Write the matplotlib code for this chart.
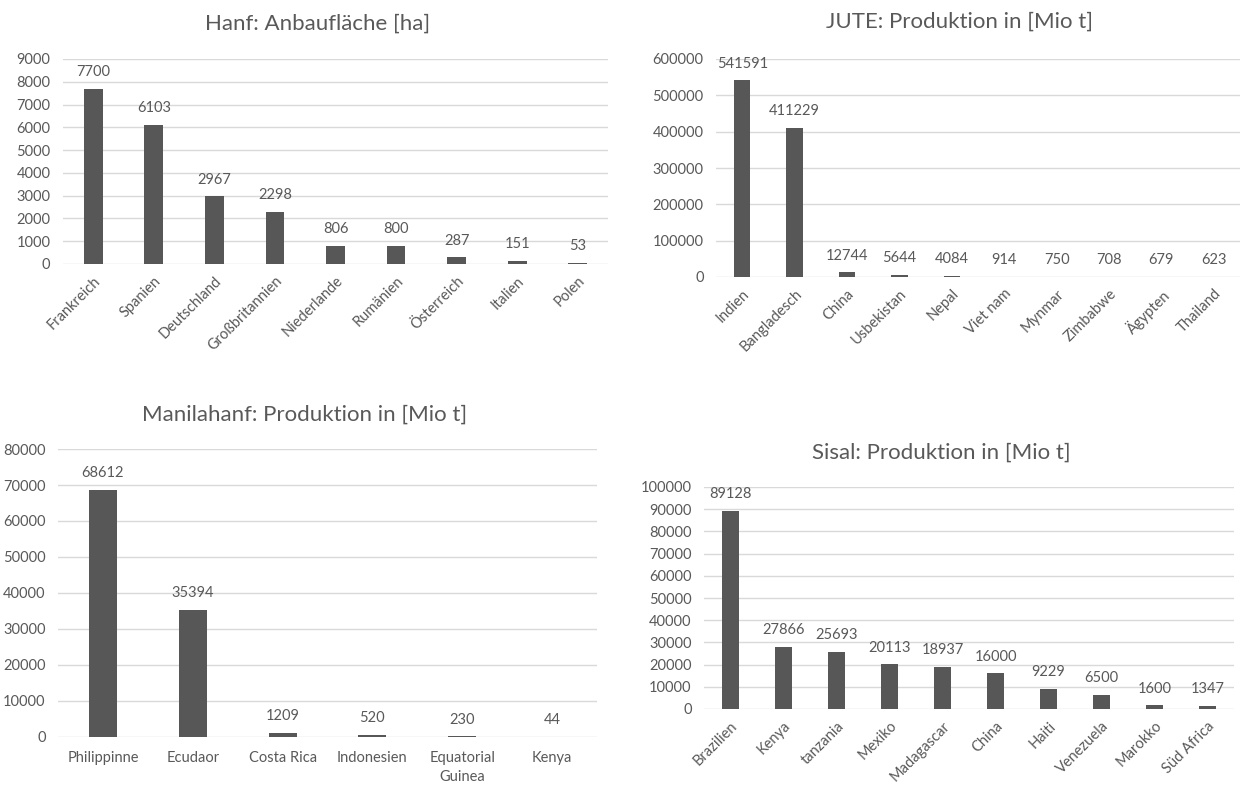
# faser_charts.py
# Four Excel-style bar charts: Hanf, Jute, Manilahanf, Sisal

import matplotlib
matplotlib.use("Agg")
import matplotlib.pyplot as plt

plt.rcParams["font.family"] = ["Lato", "DejaVu Sans"]

W, H = 1240, 785
TEXT = "#595959"
BAR = "#575757"
GRID = "#d9d9d9"

# --- data ---
hanf_countries = ["Frankreich", "Spanien", "Deutschland", "Großbritannien", "Niederlande",
                  "Rumänien", "Österreich", "Italien", "Polen"]
hanf_values = [7700, 6103, 2967, 2298, 806, 800, 287, 151, 53]

jute_countries = ["Indien", "Bangladesch", "China", "Usbekistan", "Nepal", "Viet nam",
                  "Mynmar", "Zimbabwe", "Ägypten", "Thailand"]
jute_values = [541591, 411229, 12744, 5644, 4084, 914, 750, 708, 679, 623]

manila_countries = ["Philippinne", "Ecudaor", "Costa Rica", "Indonesien", "Equatorial\nGuinea", "Kenya"]
manila_values = [68612, 35394, 1209, 520, 230, 44]

sisal_countries = ["Brazilien", "Kenya", "tanzania", "Mexiko", "Madagascar", "China", "Haiti",
                   "Venezuela", "Marokko", "Süd Africa"]
sisal_values = [89128, 27866, 25693, 20113, 18937, 16000, 9229, 6500, 1600, 1347]


def px_axes(fig, left, top, right, bottom):
    return fig.add_axes([left / W, 1 - bottom / H, (right - left) / W, (bottom - top) / H])


def excel_bar(ax, cats, vals, ymax, step, rotate=True):
    x = list(range(len(cats)))
    ax.bar(x, vals, width=0.31, color=BAR, zorder=2)
    for xi, v in zip(x, vals):
        ax.annotate(str(v), (xi, v), xytext=(0, 12), textcoords="offset points",
                    ha="center", va="center", fontsize=10.5, color=TEXT)
    ax.set_xlim(-0.5, len(cats) - 0.5)
    ax.set_ylim(0, ymax)
    ax.set_yticks(range(0, ymax + 1, step))
    ax.yaxis.grid(True, color=GRID, linewidth=1.0)
    ax.set_axisbelow(True)
    for s in ax.spines.values():
        s.set_visible(False)
    ax.tick_params(axis="both", length=0, labelsize=10.5, colors=TEXT)
    ax.tick_params(axis="y", pad=9)
    ax.set_xticks(x)
    if rotate:
        ax.set_xticklabels(cats, rotation=45, ha="right", rotation_mode="anchor")
        ax.tick_params(axis="x", pad=7)
    else:
        ax.set_xticklabels(cats, linespacing=1.5)
        ax.tick_params(axis="x", pad=10)


def main():
    fig = plt.figure(figsize=(W / 100, H / 100), dpi=100)

    ax1 = px_axes(fig, 63, 59, 608, 264)
    excel_bar(ax1, hanf_countries, hanf_values, 9000, 1000)
    fig.text(318 / W, 1 - 24 / H, "Hanf: Anbaufläche [ha]", ha="center", va="center",
             fontsize=16, color=TEXT)

    ax2 = px_axes(fig, 716, 59, 1240, 277)
    excel_bar(ax2, jute_countries, jute_values, 600000, 100000)
    fig.text(960 / W, 1 - 22 / H, "JUTE: Produktion in [Mio t]", ha="center", va="center",
             fontsize=16, color=TEXT)

    ax3 = px_axes(fig, 58, 449, 597, 737)
    excel_bar(ax3, manila_countries, manila_values, 80000, 10000, rotate=False)
    fig.text(305 / W, 1 - 415 / H, "Manilahanf: Produktion in [Mio t]", ha="center", va="center",
             fontsize=16, color=TEXT)

    ax4 = px_axes(fig, 704, 487, 1234, 709)
    excel_bar(ax4, sisal_countries, sisal_values, 100000, 10000)
    fig.text(941 / W, 1 - 453 / H, "Sisal: Produktion in [Mio t]", ha="center", va="center",
             fontsize=16, color=TEXT)

    fig.savefig("out.png", dpi=100, facecolor="white")


if __name__ == "__main__":
    main()
